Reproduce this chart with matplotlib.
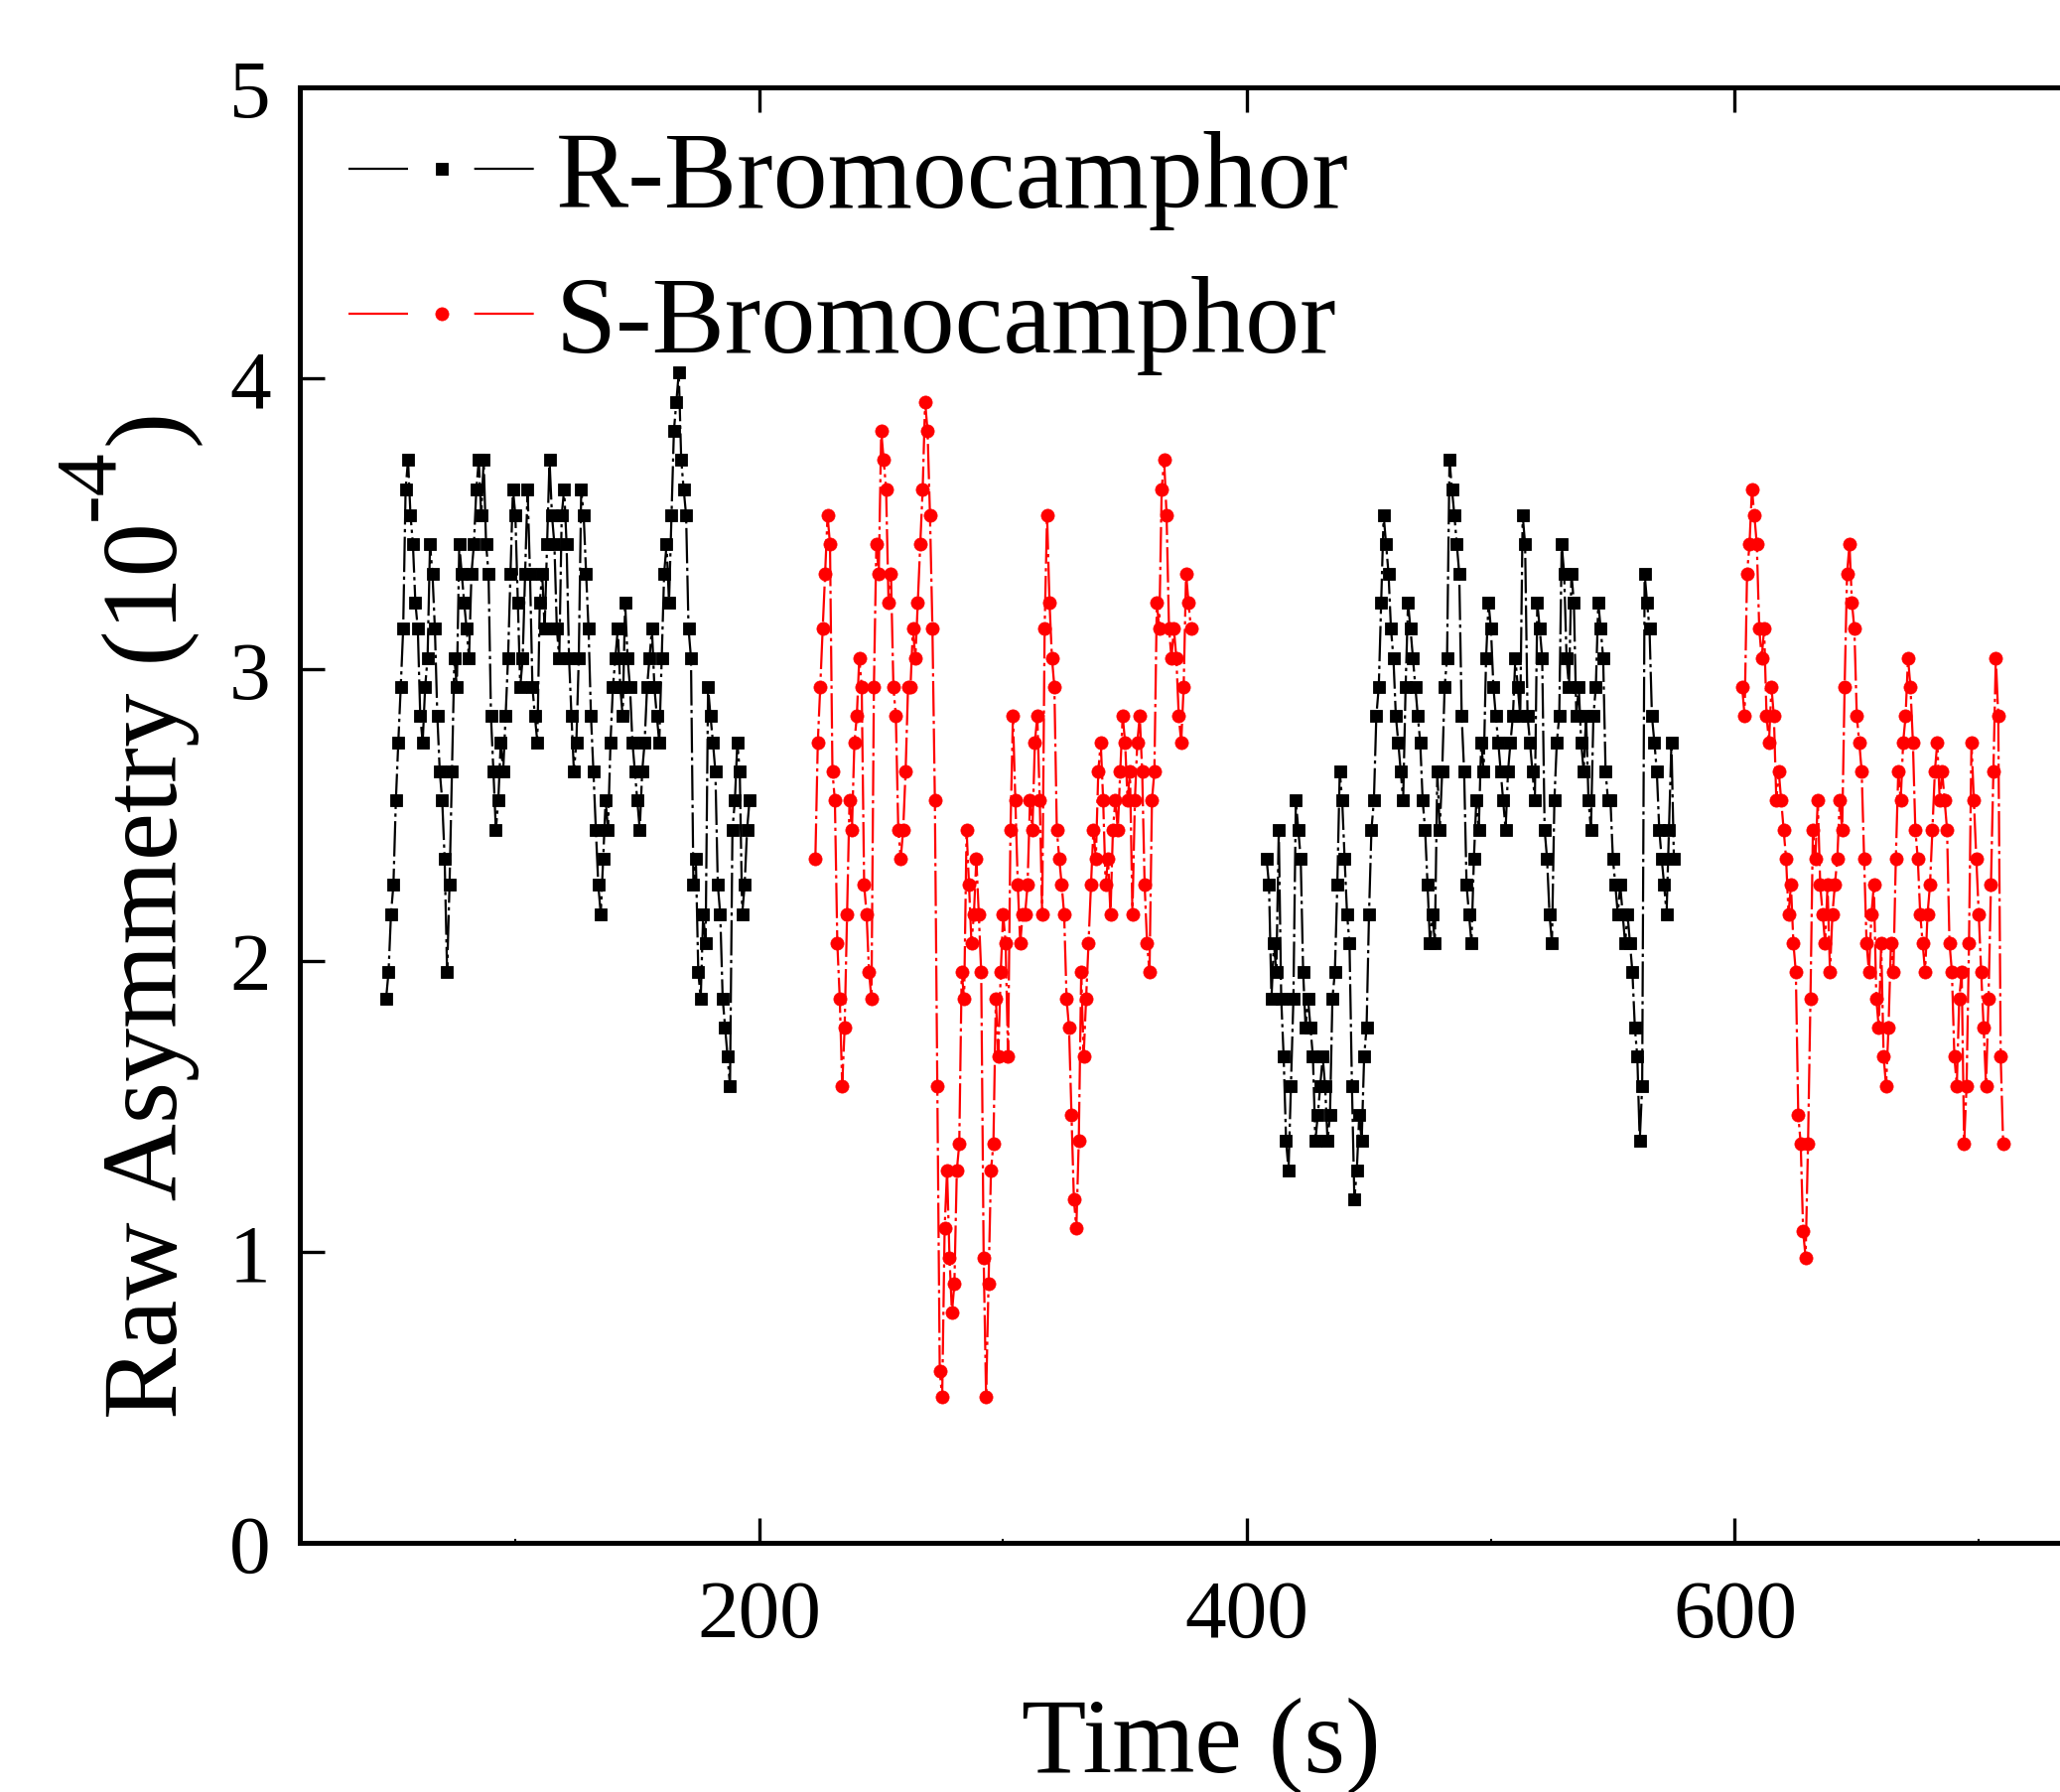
import numpy as np
import matplotlib
matplotlib.use('Agg')
import matplotlib.pyplot as plt
from matplotlib.lines import Line2D
from matplotlib.ticker import MultipleLocator, FixedLocator

plt.rcParams['font.family'] = ['Liberation Serif', 'DejaVu Serif']

# ---------------- data (1 s sampling) ----------------
r_start_1 = 47
r_vals_1 = [
    1.87, 1.96, 2.16, 2.26, 2.55, 2.75, 2.94, 3.14, 3.62, 3.72,
    3.53, 3.43, 3.23, 3.14, 2.84, 2.75, 2.94, 3.04, 3.43, 3.33,
    3.14, 2.84, 2.65, 2.55, 2.35, 1.96, 2.26, 2.65, 3.04, 2.94,
    3.43, 3.33, 3.23, 3.14, 3.04, 3.33, 3.43, 3.62, 3.72, 3.53,
    3.72, 3.43, 3.33, 2.84, 2.65, 2.45, 2.55, 2.75, 2.65, 2.84,
    3.04, 3.33, 3.62, 3.53, 3.23, 2.94, 3.04, 3.33, 3.62, 3.33,
    2.94, 2.84, 2.75, 3.23, 3.33, 3.14, 3.43, 3.72, 3.53, 3.43,
    3.14, 3.04, 3.53, 3.62, 3.43, 3.04, 2.84, 2.65, 2.75, 3.04,
    3.62, 3.53, 3.33, 3.14, 2.84, 2.65, 2.45, 2.26, 2.16, 2.35,
    2.55, 2.45, 2.75, 2.94, 3.04, 3.14, 2.94, 2.84, 3.23, 3.04,
    2.94, 2.75, 2.65, 2.55, 2.45, 2.65, 2.75, 2.94, 3.04, 3.14,
    2.94, 2.84, 2.75, 3.04, 3.33, 3.43, 3.23, 3.53, 3.82, 3.92,
    4.02, 3.72, 3.62, 3.53, 3.14, 3.04, 2.26, 2.35, 1.96, 1.87,
    2.16, 2.06, 2.94, 2.84, 2.75, 2.65, 2.26, 2.16, 1.87, 1.77,
    1.67, 1.57, 2.45, 2.55, 2.75, 2.65, 2.16, 2.26, 2.45, 2.55,
]
r_start_2 = 408
r_vals_2 = [
    2.35, 2.26, 1.87, 2.06, 1.96, 2.45, 1.87, 1.67, 1.38, 1.28,
    1.57, 1.87, 2.55, 2.45, 2.35, 1.96, 1.77, 1.87, 1.77, 1.67,
    1.38, 1.47, 1.57, 1.67, 1.57, 1.38, 1.47, 1.87, 1.96, 2.26,
    2.65, 2.55, 2.35, 2.16, 2.06, 1.57, 1.18, 1.28, 1.47, 1.38,
    1.67, 1.77, 2.16, 2.45, 2.55, 2.84, 2.94, 3.23, 3.53, 3.43,
    3.33, 3.14, 3.04, 2.84, 2.75, 2.65, 2.55, 2.94, 3.23, 3.14,
    3.04, 2.94, 2.84, 2.75, 2.55, 2.45, 2.26, 2.06, 2.16, 2.06,
    2.65, 2.45, 2.65, 2.94, 3.04, 3.72, 3.62, 3.53, 3.43, 3.33,
    2.84, 2.65, 2.26, 2.16, 2.06, 2.35, 2.55, 2.45, 2.75, 2.65,
    3.04, 3.23, 3.14, 2.94, 2.84, 2.75, 2.65, 2.55, 2.45, 2.65,
    2.75, 2.84, 3.04, 2.94, 2.84, 3.53, 3.43, 2.84, 2.75, 2.65,
    2.55, 3.23, 3.14, 3.04, 2.45, 2.35, 2.16, 2.06, 2.55, 2.75,
    2.84, 3.43, 3.33, 3.04, 2.94, 3.33, 3.23, 2.84, 2.94, 2.75,
    2.65, 2.84, 2.55, 2.45, 2.84, 2.94, 3.23, 3.14, 3.04, 2.65,
    2.55, 2.55, 2.35, 2.26, 2.16, 2.26, 2.16, 2.06, 2.16, 2.06,
    1.96, 1.77, 1.67, 1.38, 1.57, 3.33, 3.23, 3.14, 2.84, 2.75,
    2.65, 2.45, 2.35, 2.26, 2.16, 2.45, 2.75, 2.35,
]
s_start_1 = 223
s_vals_1 = [
    2.35, 2.75, 2.94, 3.14, 3.33, 3.53, 3.43, 2.65, 2.55, 2.06,
    1.87, 1.57, 1.77, 2.16, 2.55, 2.45, 2.75, 2.84, 3.04, 2.94,
    2.26, 2.16, 1.96, 1.87, 2.94, 3.43, 3.33, 3.82, 3.72, 3.62,
    3.23, 3.33, 2.94, 2.84, 2.45, 2.35, 2.45, 2.65, 2.94, 2.94,
    3.14, 3.04, 3.23, 3.43, 3.62, 3.92, 3.82, 3.53, 3.14, 2.55,
    1.57, 0.59, 0.50, 1.08, 1.28, 0.98, 0.79, 0.89, 1.28, 1.37,
    1.96, 1.87, 2.45, 2.26, 2.06, 2.16, 2.35, 2.16, 1.96, 0.98,
    0.50, 0.89, 1.28, 1.37, 1.87, 1.67, 1.96, 2.16,
    2.06, 1.67, 2.45, 2.84, 2.55, 2.26, 2.06, 2.16, 2.16, 2.26,
    2.55, 2.45, 2.75, 2.84, 2.55, 2.16, 3.14, 3.53, 3.23, 3.04,
    2.94, 2.45, 2.35, 2.26, 2.16, 1.87, 1.77, 1.47, 1.18, 1.08,
    1.38, 1.96, 1.67, 1.87, 2.06, 2.26, 2.45, 2.35, 2.65, 2.75,
    2.55, 2.26, 2.35, 2.16, 2.45, 2.55, 2.45, 2.65, 2.84, 2.75,
    2.55, 2.65, 2.16, 2.55, 2.75, 2.84, 2.65, 2.26, 2.06, 1.96,
    2.55, 2.65, 3.23, 3.14, 3.62, 3.72, 3.53,
    3.14, 3.04, 3.14, 3.04, 2.84, 2.75, 2.94, 3.33, 3.23, 3.14,
]
s_start_2 = 603
s_vals_2 = [
    2.94, 2.84, 3.33, 3.43, 3.62, 3.53, 3.43, 3.14, 3.04, 3.14,
    2.84, 2.75, 2.94, 2.84, 2.55, 2.65, 2.55, 2.45, 2.35, 2.16,
    2.26, 2.06, 1.96, 1.47, 1.37, 1.07, 0.98, 1.37, 1.87, 2.45,
    2.35, 2.55, 2.26, 2.16, 2.06, 2.26, 1.96, 2.16, 2.26, 2.35,
    2.55, 2.45, 2.94, 3.33, 3.43, 3.23, 3.14, 2.84, 2.75, 2.65,
    2.35, 2.06, 1.96, 2.16, 2.26, 1.87, 1.77, 2.06, 1.67, 1.57,
    1.77, 2.06, 1.96, 2.35, 2.65, 2.55, 2.75, 2.84, 3.04, 2.94,
    2.75, 2.45, 2.35, 2.16, 2.06, 1.96, 2.16, 2.26, 2.45, 2.65,
    2.75, 2.55, 2.65, 2.55, 2.45, 2.06, 1.96, 1.67, 1.57, 1.87,
    1.96, 1.37, 1.57, 2.06, 2.75, 2.55, 2.35, 2.16, 1.96, 1.77,
    1.57, 1.87, 2.26, 2.65, 3.04, 2.84, 1.67, 1.37,
]

series_labels = ['R-Bromocamphor', 'S-Bromocamphor']
x_ticks = [200, 400, 600]
y_ticks = [0, 1, 2, 3, 4, 5]
x_label = 'Time (s)'
y_label_main = 'Raw Asymmetry (10'
y_label_exp = '-4'
y_label_close = ')'

# ---------------- figure ----------------
W, H = 2075, 1806
fig = plt.figure(figsize=(W / 100, H / 100), dpi=100)
ax = fig.add_axes([0.14540, 0.13898, 0.87436, 0.81174])

dash = (0, (16, 2, 1.5, 2))
for start, vals in ((r_start_1, r_vals_1), (r_start_2, r_vals_2)):
    t = np.arange(start, start + len(vals))
    ax.plot(t, vals, color='black', lw=1.6, ls=dash, marker='s', ms=8.5,
            mew=0.6, mfc='black', mec='black')
for start, vals in ((s_start_1, s_vals_1), (s_start_2, s_vals_2)):
    t = np.arange(start, start + len(vals))
    ax.plot(t, vals, color='red', lw=1.6, ls=dash, marker='o', ms=9.5,
            mew=0.5, mfc='red', mec='red')

ax.set_xlim(11.5, 750)
ax.set_ylim(0, 5)
ax.xaxis.set_major_locator(FixedLocator(x_ticks))
ax.yaxis.set_major_locator(FixedLocator(y_ticks))
ax.xaxis.set_minor_locator(MultipleLocator(100))

for s in ax.spines.values():
    s.set_linewidth(3.6)
ax.tick_params(which='major', direction='in', length=18, width=2.4,
               labelsize=60, pad=21, top=True, right=True)
ax.tick_params(axis='x', which='major', pad=26)
ax.tick_params(which='minor', direction='in', length=3, width=1.5,
               top=False, right=False, left=False)

h_r = Line2D([], [], color='black', lw=1.6, ls=(0, (27, 30)), marker='s',
             ms=8.5, mew=0.6, mfc='black', mec='black')
h_s = Line2D([], [], color='red', lw=1.6, ls=(0, (27, 30)), marker='o',
             ms=9.5, mew=0.5, mfc='red', mec='red')
ax.legend([h_r, h_s], series_labels, loc='upper left',
          bbox_to_anchor=(0.0272, 0.9706), frameon=False, fontsize=79,
          handlelength=1.72, handletextpad=0.18, labelspacing=0.42,
          borderpad=0, borderaxespad=0, numpoints=1)

# y label built from three rotated pieces (raised, larger exponent)
renderer = fig.canvas.get_renderer()
base_x = 178.0
y_start = H - 1429.0
t1 = fig.text(base_x / W, y_start / H, y_label_main, rotation=90,
              ha='left', va='baseline', rotation_mode='anchor', fontsize=78)
bb1 = t1.get_window_extent(renderer)
t2 = fig.text(113.0 / W, (bb1.y1 + 2) / H, y_label_exp, rotation=90,
              ha='left', va='baseline', rotation_mode='anchor', fontsize=62)
bb2 = t2.get_window_extent(renderer)
fig.text(base_x / W, (bb2.y1 + 4) / H, y_label_close, rotation=90,
         ha='left', va='baseline', rotation_mode='anchor', fontsize=78)

fig.text(0.5829, 0.0115, x_label, ha='center', va='baseline', fontsize=77)

fig.savefig('out.png', dpi=100)
